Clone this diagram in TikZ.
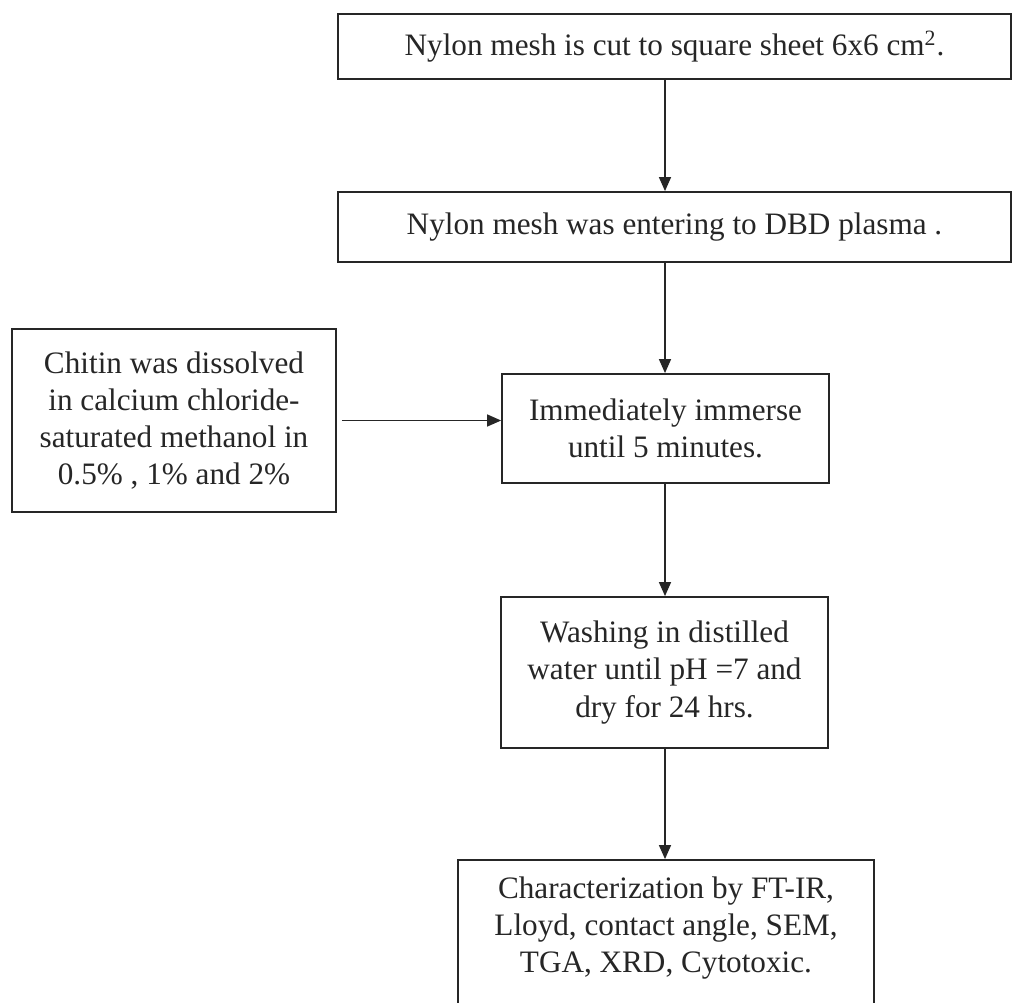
\documentclass[tikz,border=0pt]{standalone}
\usepackage{fontspec}
\setmainfont{Liberation Serif}
\usetikzlibrary{arrows.meta}
\definecolor{ink}{HTML}{262626}
\begin{document}
\begin{tikzpicture}[x=0.5pt,y=-0.5pt,
  font=\fontsize{15.6pt}{18.6pt}\selectfont,
  box/.style={draw=ink,line width=0.9pt,inner sep=0pt,align=center,text=ink},
  txt/.style={inner sep=0pt,align=center,text=ink},
  arr/.style={draw=ink,line width=0.7pt,-{Triangle[length=7pt,width=6pt]}}]
\useasboundingbox[fill=white] (0,0) rectangle (1014,1003);
\coordinate (ax) at (665,0);
\node[box,minimum width=336.5pt,minimum height=32.5pt] (b1) at (674.5,46.5)
  {Nylon mesh is cut to square sheet 6x6 cm\textsuperscript{2}.};
\node[box,minimum width=336.5pt,minimum height=35pt] (b2) at (674.5,227)
  {Nylon mesh was entering to DBD plasma .};
\node[box,minimum width=162pt,minimum height=91.5pt] (b3) at (174,420.5)
  {Chitin was dissolved\\in calcium chloride-\\saturated methanol in\\0.5\% , 1\% and 2\%};
\node[box,minimum width=163.5pt,minimum height=54.5pt] (b4) at (665.5,428.5)
  {Immediately immerse\\until 5 minutes.};
\node[box,minimum width=163.5pt,minimum height=75.5pt] (b5) at (664.5,672.5)
  {Washing in distilled\\water until pH =7 and\\dry for 24 hrs.};
\node[box,minimum width=208pt,minimum height=75pt] (b6) at (666,935) {};
\node[txt] (t6) at (666,928)
  {Characterization by FT-IR,\\Lloyd, contact angle, SEM,\\TGA, XRD, Cytotoxic.};
\draw[arr] (b1.south -| ax) -- (b2.north -| ax);
\draw[arr] (b2.south -| ax) -- (b4.north -| ax);
\draw[arr,shorten <=2.5pt] (b3.east) -- (b3.east -| b4.west);
\draw[arr] (b4.south -| ax) -- (b5.north -| ax);
\draw[arr] (b5.south -| ax) -- (b6.north -| ax);
\end{tikzpicture}
\end{document}
